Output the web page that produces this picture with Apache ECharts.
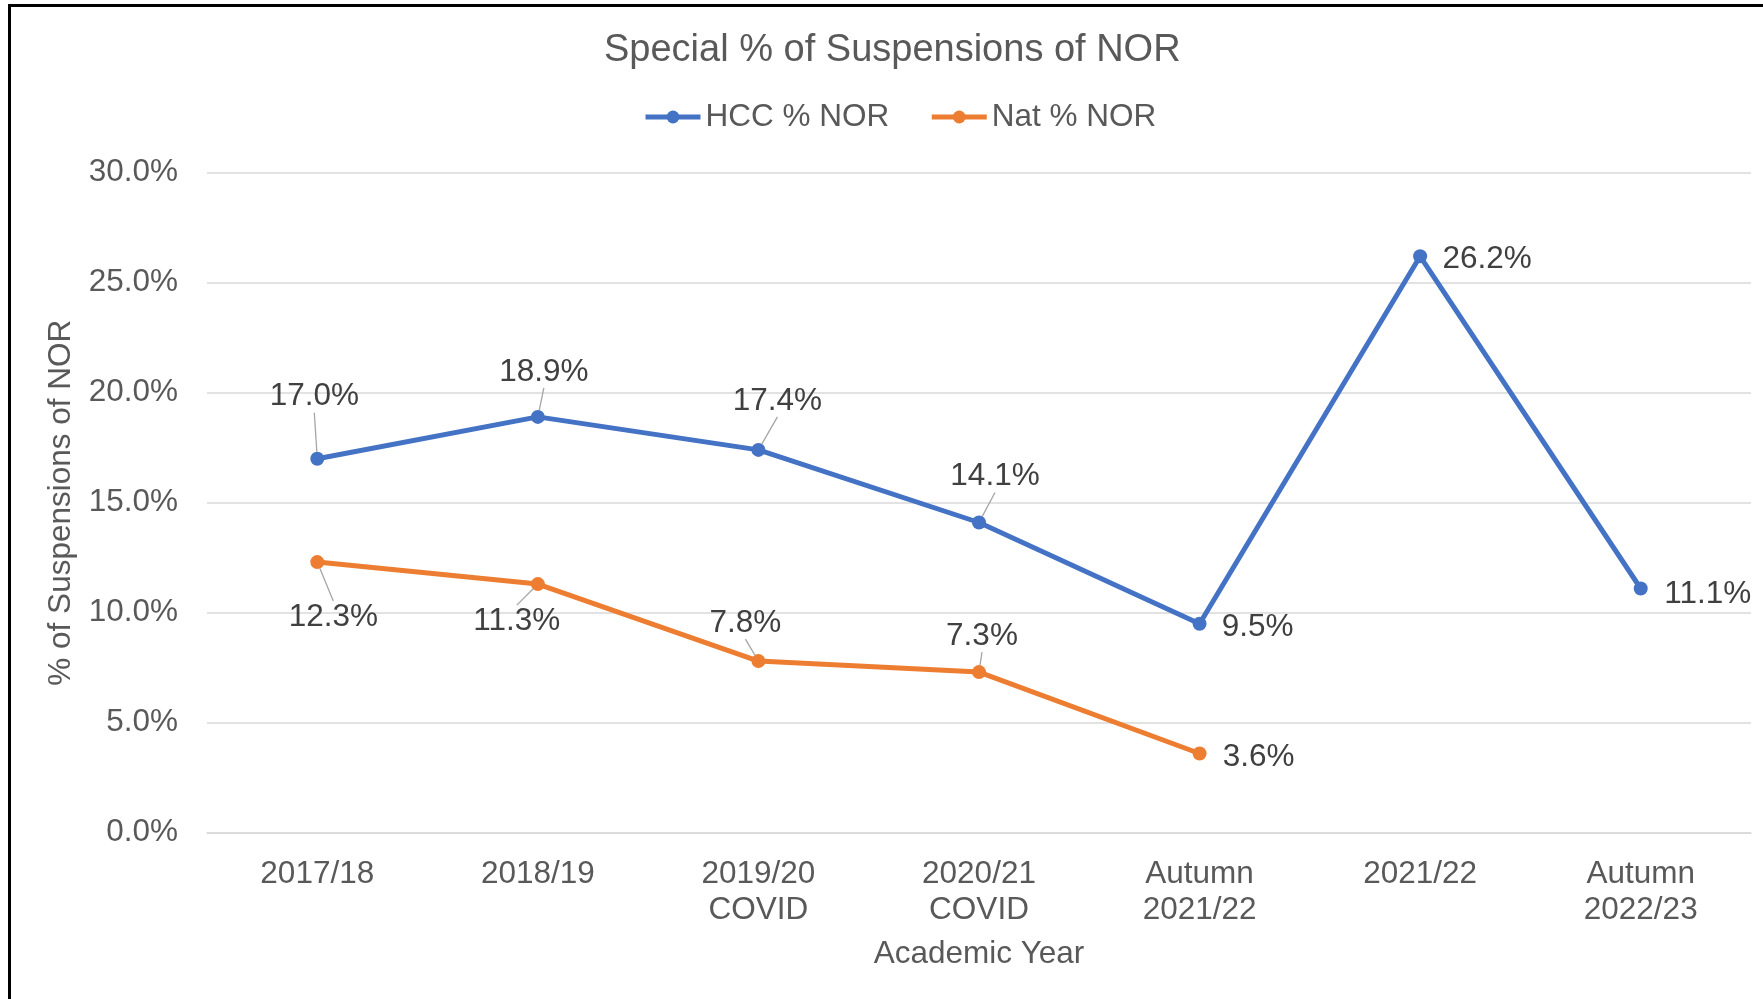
<!DOCTYPE html>
<html>
<head>
<meta charset="utf-8">
<script src="https://cdn.jsdelivr.net/npm/echarts@6/dist/echarts.min.js"></script>
<style>
  html, body { margin: 0; padding: 0; background: #fff; }
  #chart { width: 1763px; height: 999px; }
</style>
</head>
<body>
<div id="chart"></div>
<script>
// data
var years = ['2017/18', '2018/19', '2019/20\nCOVID', '2020/21\nCOVID', 'Autumn\n2021/22', '2021/22', 'Autumn\n2022/23'];
var hccPct = [17.0, 18.9, 17.4, 14.1, 9.5, 26.2, 11.1];
var natPct = [12.3, 11.3, 7.8, 7.3, 3.6, null, null];

// label offsets from each point (centre of label), px
var hccLabelOff = [[-3, -62], [6, -45], [19, -49], [16, -46], [58, 4], [67, 3], [67, 6]];
var natLabelOff = [[16, 55], [-21, 37], [-13, -38], [3, -36], [59, 4]];
var labelOff = [hccLabelOff, natLabelOff];

var font = '"Liberation Sans", Arial, sans-serif';
var txt = '#595959';

function toItems(vals, offs) {
    return vals.map(function (v, i) {
        if (v === null) return null;
        var o = offs[i];
        return {
            value: v,
            labelLine: { show: Math.abs(o[1]) > 20 }
        };
    });
}

var chart = echarts.init(document.getElementById('chart'));
chart.setOption({
    animation: false,
    textStyle: { fontFamily: font },
    graphic: [{
        type: 'rect',
        shape: { x: 9.5, y: 5.5, width: 2000, height: 2000 },
        style: { fill: 'none', stroke: '#000', lineWidth: 3 },
        silent: true
    }],
    title: {
        text: 'Special % of Suspensions of NOR',
        left: 604,
        top: 32,
        padding: 0,
        textStyle: { fontSize: 38, fontWeight: 'normal', color: txt, fontFamily: font }
    },
    legend: {
        left: 638,
        top: 96,
        itemWidth: 55,
        itemHeight: 16,
        itemGap: 40,
        lineStyle: { width: 5 },
        textStyle: { fontSize: 31.5, color: txt, fontFamily: font },
        data: ['HCC % NOR', 'Nat % NOR']
    },
    grid: { left: 207, right: 12, top: 172.7, bottom: 166.3, containLabel: false },
    xAxis: {
        type: 'category',
        data: years,
        boundaryGap: true,
        name: 'Academic Year',
        nameLocation: 'middle',
        nameGap: 106,
        nameTextStyle: { fontSize: 31.5, color: txt, fontFamily: font },
        axisLine: { show: true, lineStyle: { color: '#D9D9D9', width: 1.5 } },
        axisTick: { show: false },
        axisLabel: { fontSize: 31.5, color: txt, margin: 24, lineHeight: 36, interval: 0, fontFamily: font }
    },
    yAxis: {
        type: 'value',
        min: 0,
        max: 30,
        interval: 5,
        name: '% of Suspensions of NOR',
        nameLocation: 'middle',
        nameGap: 127,
        nameTextStyle: { fontSize: 31.5, color: txt, fontFamily: font },
        axisLine: { show: false },
        axisTick: { show: false },
        axisLabel: {
            fontSize: 31.5, color: txt, margin: 29, fontFamily: font, padding: [8, 0, 0, 0],
            formatter: function (v) { return v.toFixed(1) + '%'; }
        },
        splitLine: { lineStyle: { color: '#D9D9D9', width: 1.5 } }
    },
    series: [{
        name: 'HCC % NOR',
        type: 'line',
        data: toItems(hccPct, hccLabelOff),
        color: '#4472C4',
        lineStyle: { width: 5 },
        symbol: 'circle',
        symbolSize: 14,
        label: {
            show: true, position: 'inside', fontSize: 31.5, color: '#404040', fontFamily: font,
            formatter: function (p) { return p.value.toFixed(1) + '%'; }
        },
        labelLine: { lineStyle: { color: '#A6A6A6', width: 1.3 } }
    }, {
        name: 'Nat % NOR',
        type: 'line',
        data: toItems(natPct, natLabelOff),
        color: '#ED7D31',
        lineStyle: { width: 5 },
        symbol: 'circle',
        symbolSize: 14,
        label: {
            show: true, position: 'inside', fontSize: 31.5, color: '#404040', fontFamily: font,
            formatter: function (p) { return p.value.toFixed(1) + '%'; }
        },
        labelLine: { lineStyle: { color: '#A6A6A6', width: 1.3 } }
    }],
    labelLayout: function (params) {
        var o = labelOff[params.seriesIndex][params.dataIndex];
        if (!o) return {};
        return { dx: o[0], dy: o[1] };
    }
});
</script>
</body>
</html>
